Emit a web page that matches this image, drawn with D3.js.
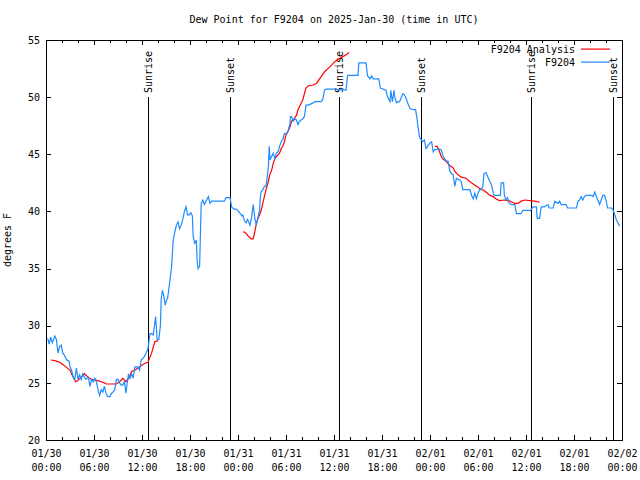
<!DOCTYPE html>
<html>
<head>
<meta charset="utf-8">
<script src="https://cdn.jsdelivr.net/npm/d3@7"></script>
<style>
  html, body { margin: 0; padding: 0; background: #fff; }
  svg { display: block; }
  text { font-family: "DejaVu Sans Mono", "Liberation Mono", monospace; font-size: 10px; fill: #000; }
</style>
</head>
<body>
<svg id="chart" width="640" height="480"></svg>
<script>
// ---------- DATA ----------
const chartTitle = "Dew Point for F9204 on 2025-Jan-30 (time in UTC)";
const yAxisLabel = "degrees F";
const seriesNames = ["F9204 Analysis", "F9204"];
const startTime = Date.UTC(2025, 0, 30, 0, 0);
const spanHours = 72;
const yTicks = [20, 25, 30, 35, 40, 45, 50, 55];

// Observed F9204 dew point: hours since 01/30 00:00 UTC and degrees F
const obsHours = [
  0.2,0.4,0.6,0.8,1.1,1.3,1.5,1.7,1.9,2.1,2.3,2.6,2.9,3.0,3.2,3.4,3.6,3.8,4.0,4.2,4.4,4.6,4.8,5.0,5.3,5.5,5.7,5.9,
  6.1,6.3,6.5,6.7,6.9,7.1,7.3,7.5,7.7,8.0,8.2,8.4,8.6,8.8,9.0,9.2,9.4,9.6,9.8,10.0,10.1,10.3,10.5,10.7,10.9,11.1,11.5,11.7,11.9,
  12.3,12.5,12.75,13.0,13.2,13.4,13.6,13.7,13.9,14.1,14.3,14.4,14.55,14.7,14.9,15.1,15.2,15.5,15.7,15.9,16.1,16.3,16.5,16.7,16.9,
  17.1,17.3,17.5,17.7,17.9,18.1,18.3,18.4,18.6,18.8,18.9,19.0,19.2,19.4,19.6,19.8,20.0,20.2,20.3,20.5,20.7,21.3,22.3,22.5,23.0,
  23.2,23.5,23.8,24.2,24.5,24.6,24.8,25.0,25.2,25.5,25.7,25.9,26.1,26.3,26.5,26.7,26.8,26.9,27.1,27.3,27.5,27.8,27.9,28.0,28.2,
  28.4,28.6,28.8,29.0,29.2,29.4,29.6,29.8,30.0,30.25,30.5,30.55,30.7,30.9,31.1,31.3,31.5,31.7,32.1,32.3,32.5,32.8,33.4,33.6,34.4,
  34.6,34.8,35.0,36.3,36.5,37.1,37.5,37.7,39.0,39.1,40.0,40.2,40.5,40.7,40.9,41.6,41.8,42.5,42.7,43.0,43.1,43.3,43.5,43.6,43.8,
  44.0,44.2,44.6,44.8,45.0,45.2,45.5,45.9,46.2,46.4,46.5,46.7,46.9,47.1,47.3,47.5,47.8,48.0,48.2,48.4,48.6,48.8,49.0,49.4,49.6,
  50.0,50.25,50.5,50.7,50.9,51.1,51.3,51.7,51.9,52.1,53.0,53.2,53.4,53.6,53.8,54.0,54.2,54.4,54.6,54.75,55.0,55.25,55.5,55.7,55.9,
  56.0,56.8,56.9,57.2,57.3,57.5,57.7,57.9,58.2,58.6,58.8,59.4,59.6,60.3,60.5,60.9,61.3,61.4,61.7,61.9,62.3,62.75,62.9,63.4,63.6,
  64.0,64.2,64.4,65.0,65.2,66.3,66.5,66.7,66.9,67.1,67.3,67.5,68.2,68.4,68.6,68.8,69.2,69.4,69.6,69.8,70.0,70.2,70.7,70.9,71.1,
  71.3,71.5,71.7
];
const obsValues = [
  28.9,28.4,29.0,28.5,29.1,28.8,27.6,28.2,28.3,27.6,27.4,27.0,26.9,26.4,26.1,25.5,25.3,26.3,25.3,25.7,25.3,25.8,25.5,25.3,25.5,24.7,25.3,25.1,
  25.4,25.1,24.4,23.9,24.4,24.2,24.7,24.1,23.8,23.8,24.1,24.2,24.4,25.3,25.3,25.0,24.8,24.8,25.1,24.1,24.7,25.7,25.4,25.8,25.4,26.4,26.4,26.1,27.0,
  27.3,27.6,28.0,29.3,29.3,29.2,30.2,30.8,28.8,28.8,30.0,32.3,33.1,32.7,31.8,32.3,32.4,34.0,35.2,37.5,38.2,38.8,39.1,38.5,38.8,
  39.3,40.0,40.4,39.7,39.7,39.9,39.6,37.8,37.2,37.5,35.6,35.0,35.2,40.7,41.0,40.6,40.9,41.15,41.3,40.7,40.9,40.9,40.9,41.2,41.2,
  40.4,40.2,40.2,39.9,39.6,39.7,39.2,39.0,39.3,38.8,39.5,40.6,39.4,38.8,39.5,40.1,41.3,41.7,41.9,42.2,42.2,43.9,45.7,44.5,44.8,
  45.1,44.6,45.1,45.2,45.7,46.1,46.3,46.8,46.8,47.0,47.7,48.3,48.3,47.9,48.1,48.0,47.6,47.9,48.1,48.3,49.3,49.3,49.5,49.6,49.6,
  49.8,50.6,50.7,50.7,50.6,50.7,50.6,51.9,51.9,53.0,53.0,51.85,51.6,51.85,51.6,51.6,50.8,50.6,50.0,49.6,50.6,49.6,50.6,50.0,49.5,
  49.6,49.6,50.3,50.2,49.9,49.5,49.0,48.9,48.9,48.0,47.4,46.5,46.25,46.1,46.25,45.5,45.8,46.0,46.1,45.2,45.4,45.4,45.5,45.4,44.9,
  44.4,44.4,43.5,43.3,43.2,42.2,42.9,42.75,42.6,41.9,41.9,41.4,41.1,41.6,41.1,41.6,41.9,41.9,42.2,43.3,43.4,43.0,42.6,42.3,41.6,
  41.4,41.4,42.5,42.5,41.4,41.0,41.2,40.7,40.6,40.6,39.8,39.8,40.1,40.1,40.05,40.4,40.4,39.4,39.4,40.4,40.4,40.6,40.3,40.3,40.9,
  40.7,40.9,40.6,40.6,40.3,40.3,40.9,41.0,41.3,41.0,41.3,41.4,41.4,41.3,41.7,41.3,40.6,41.0,41.4,41.4,41.0,40.3,40.3,40.1,39.7,
  39.25,39.0,38.7
];

// Analysis series (null = gap between analysis runs)
const anaHours = [
  0.6,1.1,1.7,2.1,2.5,3.0,3.4,3.7,4.0,4.4,4.8,5.25,5.7,6.1,6.5,6.9,7.3,7.5,8.8,9.2,9.6,10.0,10.4,10.7,11.1,11.5,11.9,12.3,12.75,13.2,13.6,14.0,
  19.0,
  24.6,24.8,25.0,25.2,25.5,25.7,25.9,26.1,26.3,26.5,26.7,26.9,27.1,27.3,27.5,27.75,27.96,28.2,28.4,28.6,28.8,29.2,29.4,29.6,29.8,30.0,30.25,
  30.5,30.7,30.9,31.3,31.5,31.7,32.1,32.3,32.5,32.8,33.4,33.8,34.0,34.4,34.8,35.25,35.7,36.1,36.5,37.0,37.5,37.9,
  43.0,
  48.6,48.9,49.2,49.4,49.6,50.0,50.5,50.9,51.1,51.5,51.9,52.5,53.0,53.4,53.8,54.2,54.6,55.0,55.5,55.9,56.3,56.7,57.3,58.0,58.6,59.0,59.4,
  59.8,60.5,61.1,61.7
];
const anaValues = [
  27.0,26.95,26.8,26.6,26.4,26.1,25.5,25.1,25.2,25.5,25.8,25.5,25.3,25.25,25.2,25.1,25.0,24.9,24.9,25.1,25.4,25.1,25.5,26.0,26.1,26.3,26.5,26.7,26.8,27.6,28.6,28.7,
  null,
  38.2,38.2,38.1,37.9,37.7,37.6,37.6,38.2,38.96,39.4,39.7,40.1,40.7,41.3,41.9,42.5,43.2,43.6,44.2,44.6,44.8,45.1,45.5,45.7,46.1,46.7,47.0,
  47.4,47.9,48.0,48.4,48.9,49.2,49.75,50.3,50.8,51.0,51.06,51.2,51.4,51.8,52.2,52.5,52.8,53.1,53.3,53.5,53.7,53.9,
  null,
  45.7,45.7,45.2,44.8,44.6,44.4,44.0,43.8,43.5,43.2,43.0,42.9,42.6,42.4,42.2,42.0,41.9,41.7,41.4,41.3,41.06,40.95,41.0,40.9,40.7,40.7,40.9,
  41.0,40.95,40.9,40.8
];

// Sunrise / sunset markers (hours since start)
const sunHours = [12.75, 23.0, 36.6, 46.9, 60.6, 70.9];
const sunLabels = ["Sunrise", "Sunset", "Sunrise", "Sunset", "Sunrise", "Sunset"];

// ---------- CHART ----------
const colors = { analysis: "#ff0000", obs: "#1e8cff" };
const M = { left: 46, right: 622, top: 40, bottom: 440 };
const svg = d3.select("#chart");
const hourMs = 3600 * 1000;
const toDate = h => new Date(startTime + h * hourMs);

const x = d3.scaleUtc().domain([toDate(0), toDate(spanHours)]).range([M.left, M.right]);
const y = d3.scaleLinear().domain([20, 55]).range([M.bottom, M.top]);

const obs = obsHours.map((h, i) => ({ t: toDate(h), v: obsValues[i] }));
const ana = anaHours.map((h, i) => ({ t: toDate(h), v: anaValues[i] }));

// Minor ticks (every 2 hours) bottom/top
const minorTicks = d3.utcHour.every(2).range(toDate(0), toDate(spanHours + 0.01));
svg.append("g").attr("transform", `translate(0,${M.bottom})`)
  .call(d3.axisBottom(x).tickValues(minorTicks).tickSizeInner(-3).tickSizeOuter(0).tickFormat(""))
  .call(g => g.select(".domain").remove());
svg.append("g").attr("transform", `translate(0,${M.top})`)
  .call(d3.axisTop(x).tickValues(minorTicks).tickSizeInner(-3).tickSizeOuter(0).tickFormat(""))
  .call(g => g.select(".domain").remove());

// Major ticks (every 6 hours) with two-line labels
const majorTicks = d3.utcHour.every(6).range(toDate(0), toDate(spanHours + 0.01));
const fmtDate = d3.utcFormat("%m/%d"), fmtTime = d3.utcFormat("%H:%M");
svg.append("g").attr("transform", `translate(0,${M.bottom})`)
  .call(d3.axisBottom(x).tickValues(majorTicks).tickSizeInner(-5).tickSizeOuter(0).tickFormat(""))
  .call(g => g.select(".domain").remove())
  .call(g => g.selectAll(".tick text").each(function(d) {
    const t = d3.select(this).attr("y", null).attr("dy", null).text(null)
      .attr("font-family", null).attr("font-size", null);
    t.append("tspan").attr("x", 0).attr("y", 17).text(fmtDate(d));
    t.append("tspan").attr("x", 0).attr("y", 31).text(fmtTime(d));
  }));
svg.append("g").attr("transform", `translate(0,${M.top})`)
  .call(d3.axisTop(x).tickValues(majorTicks).tickSizeInner(-5).tickSizeOuter(0).tickFormat(""))
  .call(g => g.select(".domain").remove());

// Y axes
svg.append("g").attr("transform", `translate(${M.left},0)`)
  .call(d3.axisLeft(y).tickValues(yTicks).tickSizeInner(-5).tickSizeOuter(0).tickPadding(6))
  .call(g => g.select(".domain").remove())
  .call(g => g.selectAll(".tick text").attr("font-family", null).attr("font-size", null));
svg.append("g").attr("transform", `translate(${M.right},0)`)
  .call(d3.axisRight(y).tickValues(yTicks).tickSizeInner(-5).tickSizeOuter(0).tickFormat(""))
  .call(g => g.select(".domain").remove());

svg.selectAll(".tick line").attr("stroke", "#000").attr("shape-rendering", "crispEdges");

// Sunrise / sunset lines
const sun = svg.append("g");
sun.selectAll("line").data(sunHours).join("line")
  .attr("x1", d => Math.round(x(toDate(d))) + 0.5).attr("x2", d => Math.round(x(toDate(d))) + 0.5)
  .attr("y1", 97).attr("y2", M.bottom)
  .attr("stroke", "#000").attr("stroke-width", 1).attr("shape-rendering", "crispEdges");
sun.selectAll("text").data(sunHours).join("text")
  .attr("transform", d => `translate(${Math.round(x(toDate(d))) + 0.5},93) rotate(-90)`)
  .attr("dy", "0.38em")
  .attr("text-anchor", "start")
  .text((d, i) => sunLabels[i]);

// Data lines
const line = d3.line().defined(d => d.v != null).x(d => x(d.t)).y(d => y(d.v));
svg.append("path").datum(ana).attr("d", line)
  .attr("fill", "none").attr("stroke", colors.analysis).attr("stroke-width", 1.2);
svg.append("path").datum(obs).attr("d", line)
  .attr("fill", "none").attr("stroke", colors.obs).attr("stroke-width", 1.2);

// Frame
svg.append("rect").attr("x", M.left + 0.5).attr("y", M.top + 0.5)
  .attr("width", M.right - M.left).attr("height", M.bottom - M.top)
  .attr("fill", "none").attr("stroke", "#000").attr("shape-rendering", "crispEdges");

// Title & axis label
svg.append("text").attr("x", (M.left + M.right) / 2).attr("y", 23)
  .attr("text-anchor", "middle").text(chartTitle);
svg.append("text").attr("transform", "translate(11,240) rotate(-90)")
  .attr("text-anchor", "middle").text(yAxisLabel);

// Legend
const legend = svg.append("g");
const legendColors = [colors.analysis, colors.obs];
seriesNames.forEach((name, i) => {
  const cy = 49 + i * 13;
  legend.append("text").attr("x", 575).attr("y", cy).attr("dy", "0.35em")
    .attr("text-anchor", "end").text(name);
  legend.append("rect").attr("x", 581).attr("y", cy - 0.5).attr("width", 29).attr("height", 1.2)
    .attr("fill", legendColors[i]);
});
</script>
</body>
</html>
